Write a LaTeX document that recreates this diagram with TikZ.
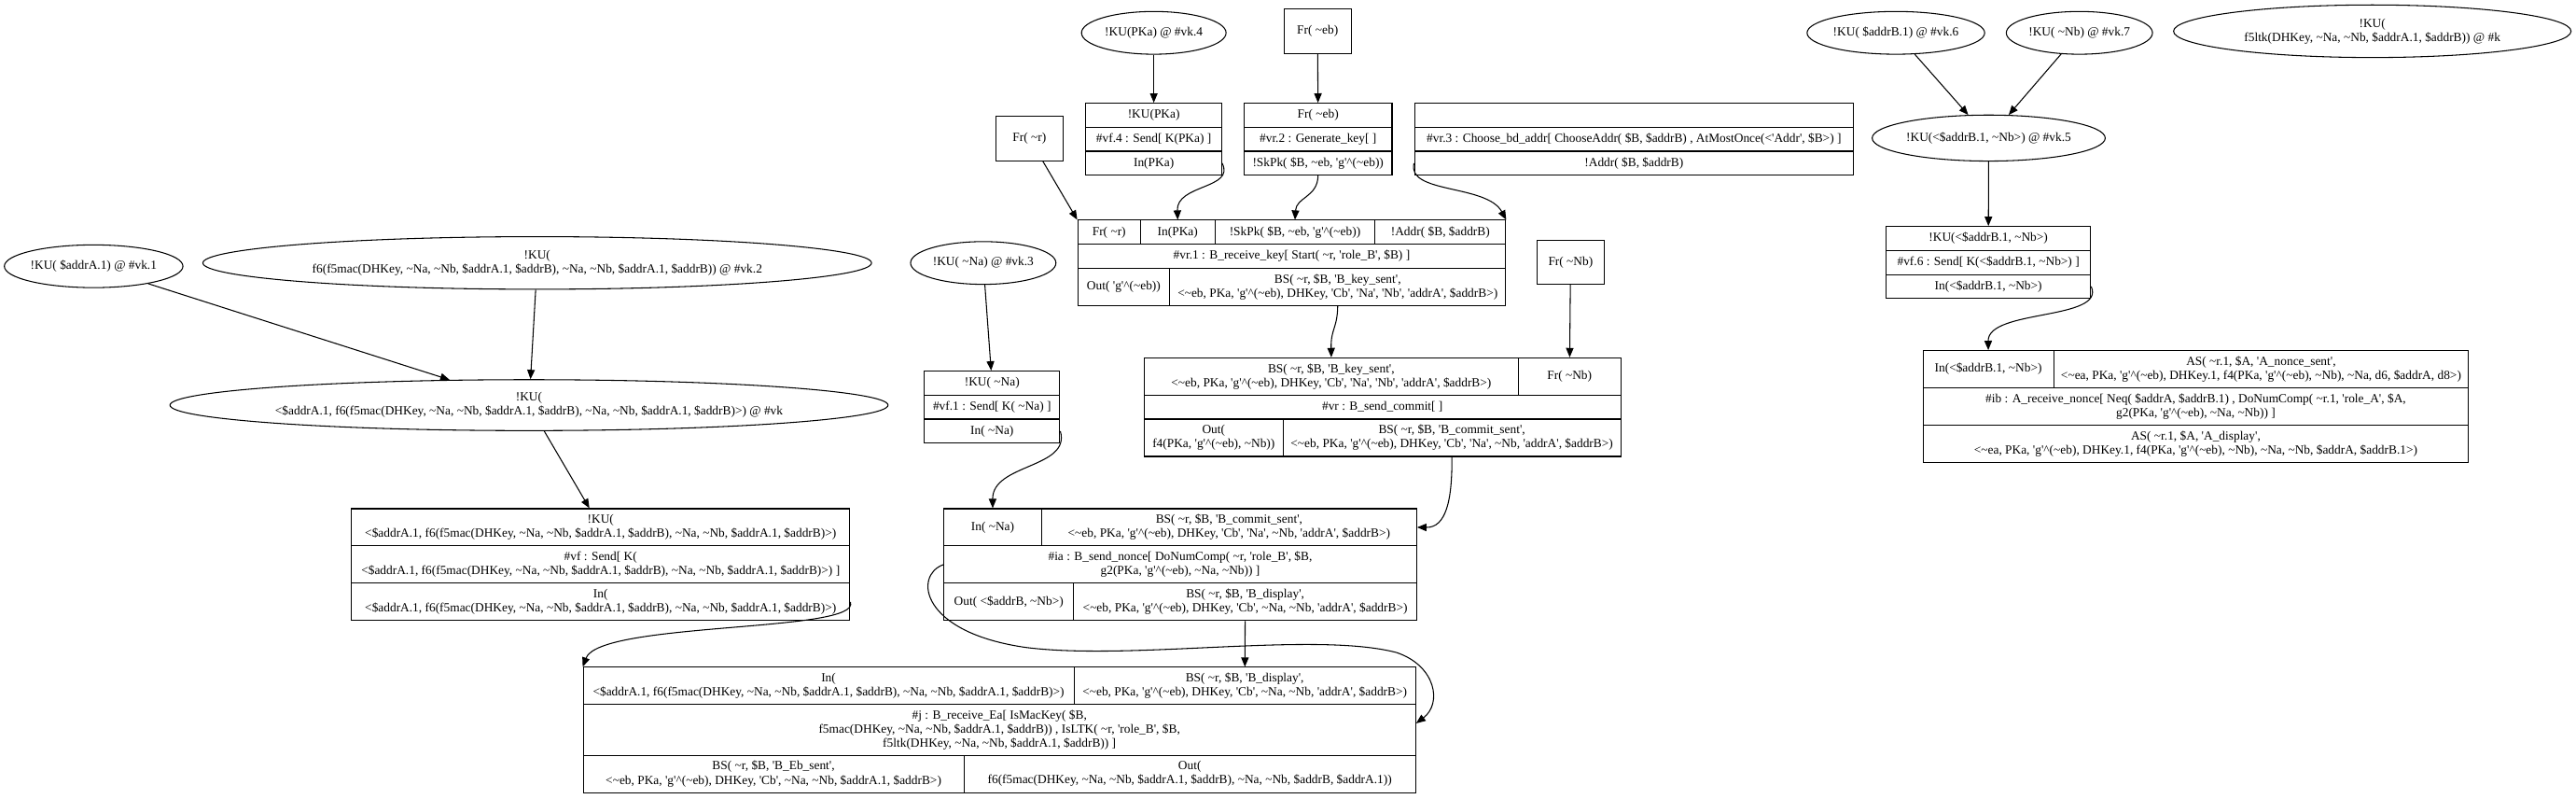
\documentclass[tikz,border=0pt]{standalone}
\usepackage{fontspec}
\newfontfamily\gvfont{Liberation Serif}
\usetikzlibrary{arrows.meta, shapes.geometric}
\newcommand{\tld}{\textasciitilde}
\newcommand{\gEb}{'g'\textasciicircum(\tld eb)}
\newcommand{\fsix}{f6(f5mac(DHKey, \tld Na, \tld Nb, \$addrA.1, \$addrB), \tld Na, \tld Nb, \$addrA.1, \$addrB)}

\begin{document}
\begin{tikzpicture}[x=1pt, y=-1pt,
  rec/.style={draw, line width=0.6pt, inner sep=1pt, align=center, font=\gvfont\fontsize{7.6}{8.6}\selectfont},
  fr/.style={rec, minimum width=41pt, minimum height=27pt},
  ku/.style={ellipse, draw, line width=0.6pt, inner sep=0pt, align=center, font=\gvfont\fontsize{7.6}{8.6}\selectfont},
  link/.style={line width=0.6pt, -{Triangle[length=5.7pt, width=4.6pt]}}]
  \useasboundingbox (0,0) rectangle (1568,486);

  % top row
  \node[ku, minimum width=88pt, minimum height=26pt] (vk4) at (702.3,20) {!KU(PKa) @ \#vk.4};
  \node[fr] (freb) at (802,19) {Fr( \tld eb)};
  \node[ku, minimum width=108pt, minimum height=26pt] (vk6) at (1154,20) {!KU( \$addrB.1) @ \#vk.6};
  \node[ku, minimum width=89pt, minimum height=26pt] (vk7) at (1265.7,20) {!KU( \tld Nb) @ \#vk.7};
  \node[ku, minimum width=242pt, minimum height=32pt] (kk) at (1444,19) {!KU(\\ f5ltk(DHKey, \tld Na, \tld Nb, \$addrA.1, \$addrB)) @ \#k};

  % vf.4
  \node[rec, minimum width=82.6pt, minimum height=14.6pt] (vf4a) at (702.3,70.1) {!KU(PKa)};
  \node[rec, minimum width=82.6pt, minimum height=14.6pt] (vf4b) at (702.3,84.7) {\#vf.4 : Send[ K(PKa) ]};
  \node[rec, minimum width=82.6pt, minimum height=14.6pt] (vf4c) at (702.3,99.3) {In(PKa)};
  % vr.2
  \node[rec, minimum width=90pt, minimum height=14.6pt] (vr2a) at (802.3,70.1) {Fr( \tld eb)};
  \node[rec, minimum width=90pt, minimum height=14.6pt] (vr2b) at (802.3,84.7) {\#vr.2 : Generate\_key[ ]};
  \node[rec, minimum width=90pt, minimum height=14.6pt] (vr2c) at (802.3,99.3) {!SkPk( \$B, \tld eb, \gEb)};
  % vr.3
  \node[rec, minimum width=267.2pt, minimum height=14.6pt] (vr3a) at (994.6,70.1) {};
  \node[rec, minimum width=267.2pt, minimum height=14.6pt] (vr3b) at (994.6,84.7) {\#vr.3 : Choose\_bd\_addr[ ChooseAddr( \$B, \$addrB) , AtMostOnce(<'Addr', \$B>) ]};
  \node[rec, minimum width=267.2pt, minimum height=14.6pt] (vr3c) at (994.6,99.3) {!Addr( \$B, \$addrB)};

  \node[fr] (frr) at (626.6,84.2) {Fr( \tld r)};
  \node[ku, minimum width=137pt, minimum height=28pt] (vk5) at (1210.5,84) {!KU(<\$addrB.1, \tld Nb>) @ \#vk.5};

  % vr.1
  \node[rec, minimum width=38.2pt, minimum height=14.6pt] (vr1a) at (675.1,141.3) {Fr( \tld r)};
  \node[rec, minimum width=45.3pt, minimum height=14.6pt] (vr1b) at (716.85,141.3) {In(PKa)};
  \node[rec, minimum width=97.5pt, minimum height=14.6pt] (vr1c) at (788.25,141.3) {!SkPk( \$B, \tld eb, \gEb)};
  \node[rec, minimum width=79.5pt, minimum height=14.6pt] (vr1d) at (876.75,141.3) {!Addr( \$B, \$addrB)};
  \node[rec, minimum width=260.5pt, minimum height=14.6pt] (vr1m) at (786.25,155.9) {\#vr.1 : B\_receive\_key[ Start( \tld r, 'role\_B', \$B) ]};
  \node[rec, minimum width=56pt, minimum height=22.7pt] (vr1e) at (684,174.55) {Out( \gEb)};
  \node[rec, minimum width=204.5pt, minimum height=22.7pt] (vr1f) at (814.25,174.55) {BS( \tld r, \$B, 'B\_key\_sent',\\ <\tld eb, PKa, \gEb, DHKey, 'Cb', 'Na', 'Nb', 'addrA', \$addrB>)};

  % vf.6
  \node[rec, minimum width=124.6pt, minimum height=14.6pt] (vf6a) at (1210.3,145.1) {!KU(<\$addrB.1, \tld Nb>)};
  \node[rec, minimum width=124.6pt, minimum height=14.6pt] (vf6b) at (1210.3,159.7) {\#vf.6 : Send[ K(<\$addrB.1, \tld Nb>) ]};
  \node[rec, minimum width=124.6pt, minimum height=14.6pt] (vf6c) at (1210.3,174.3) {In(<\$addrB.1, \tld Nb>)};

  \node[ku, minimum width=88.5pt, minimum height=26pt] (vk3) at (598.5,160) {!KU( \tld Na) @ \#vk.3};
  \node[fr] (frnb) at (956,159.5) {Fr( \tld Nb)};
  \node[ku, minimum width=108pt, minimum height=26pt] (vk1) at (57,162) {!KU( \$addrA.1) @ \#vk.1};
  \node[ku, minimum width=407pt, minimum height=32pt] (vk2) at (327,160) {!KU(\\ \fsix) @ \#vk.2};
  \node[ku, minimum width=437pt, minimum height=31pt] (vk) at (322,246.5) {!KU(\\ <\$addrA.1, \fsix>) @ \#vk};

  % vf.1
  \node[rec, minimum width=82.5pt, minimum height=14.6pt] (vf1a) at (603.85,233.1) {!KU( \tld Na)};
  \node[rec, minimum width=82.5pt, minimum height=14.6pt] (vf1b) at (603.85,247.7) {\#vf.1 : Send[ K( \tld Na) ]};
  \node[rec, minimum width=82.5pt, minimum height=14.6pt] (vf1c) at (603.85,262.3) {In( \tld Na)};

  % vr
  \node[rec, minimum width=227.7pt, minimum height=22.7pt] (vra) at (810.35,229.05) {BS( \tld r, \$B, 'B\_key\_sent',\\ <\tld eb, PKa, \gEb, DHKey, 'Cb', 'Na', 'Nb', 'addrA', \$addrB>)};
  \node[rec, minimum width=62.3pt, minimum height=22.7pt] (vrb) at (955.35,229.05) {Fr( \tld Nb)};
  \node[rec, minimum width=290pt, minimum height=14.6pt] (vrm) at (841.5,247.7) {\#vr : B\_send\_commit[ ]};
  \node[rec, minimum width=84.5pt, minimum height=22.7pt] (vre) at (738.75,266.35) {Out(\\ f4(PKa, \gEb, \tld Nb))};
  \node[rec, minimum width=205.5pt, minimum height=22.7pt] (vrf) at (883.75,266.35) {BS( \tld r, \$B, 'B\_commit\_sent',\\ <\tld eb, PKa, \gEb, DHKey, 'Cb', 'Na', \tld Nb, 'addrA', \$addrB>)};

  % ib
  \node[rec, minimum width=79.5pt, minimum height=22.7pt] (iba) at (1210.25,224.65) {In(<\$addrB.1, \tld Nb>)};
  \node[rec, minimum width=252.6pt, minimum height=22.7pt] (ibb) at (1376.3,224.65) {AS( \tld r.1, \$A, 'A\_nonce\_sent',\\ <\tld ea, PKa, \gEb, DHKey.1, f4(PKa, \gEb, \tld Nb), \tld Na, d6, \$addrA, d8>)};
  \node[rec, minimum width=332.1pt, minimum height=22.7pt] (ibm) at (1336.55,247.35) {\#ib : A\_receive\_nonce[ Neq( \$addrA, \$addrB.1) , DoNumComp( \tld r.1, 'role\_A', \$A,\\ g2(PKa, \gEb, \tld Na, \tld Nb)) ]};
  \node[rec, minimum width=332.1pt, minimum height=22.7pt] (ibc) at (1336.55,270.05) {AS( \tld r.1, \$A, 'A\_display',\\ <\tld ea, PKa, \gEb, DHKey.1, f4(PKa, \gEb, \tld Nb), \tld Na, \tld Nb, \$addrA, \$addrB.1>)};

  % vf
  \node[rec, minimum width=303.4pt, minimum height=22.7pt] (vfa) at (365.6,320.85) {!KU(\\ <\$addrA.1, \fsix>)};
  \node[rec, minimum width=303.4pt, minimum height=22.7pt] (vfb) at (365.6,343.55) {\#vf : Send[ K(\\ <\$addrA.1, \fsix>) ]};
  \node[rec, minimum width=303.4pt, minimum height=22.7pt] (vfc) at (365.6,366.25) {In(\\ <\$addrA.1, \fsix>)};

  % ia
  \node[rec, minimum width=59.5pt, minimum height=22.7pt] (iaa) at (604.25,320.85) {In( \tld Na)};
  \node[rec, minimum width=228.3pt, minimum height=22.7pt] (iab) at (748.15,320.85) {BS( \tld r, \$B, 'B\_commit\_sent',\\ <\tld eb, PKa, \gEb, DHKey, 'Cb', 'Na', \tld Nb, 'addrA', \$addrB>)};
  \node[rec, minimum width=287.8pt, minimum height=22.7pt] (iam) at (718.4,343.55) {\#ia : B\_send\_nonce[ DoNumComp( \tld r, 'role\_B', \$B,\\ g2(PKa, \gEb, \tld Na, \tld Nb)) ]};
  \node[rec, minimum width=79.1pt, minimum height=22.7pt] (iae) at (614.05,366.25) {Out( <\$addrB, \tld Nb>)};
  \node[rec, minimum width=208.7pt, minimum height=22.7pt] (iaf) at (757.95,366.25) {BS( \tld r, \$B, 'B\_display',\\ <\tld eb, PKa, \gEb, DHKey, 'Cb', \tld Na, \tld Nb, 'addrA', \$addrB>)};

  % j
  \node[rec, minimum width=298.7pt, minimum height=22.7pt] (ja) at (504.35,417.35) {In(\\ <\$addrA.1, \fsix>)};
  \node[rec, minimum width=208pt, minimum height=22.7pt] (jb) at (757.7,417.35) {BS( \tld r, \$B, 'B\_display',\\ <\tld eb, PKa, \gEb, DHKey, 'Cb', \tld Na, \tld Nb, 'addrA', \$addrB>)};
  \node[rec, minimum width=506.7pt, minimum height=30.8pt] (jm) at (608.35,444.1) {\#j : B\_receive\_Ea[ IsMacKey( \$B,\\ f5mac(DHKey, \tld Na, \tld Nb, \$addrA.1, \$addrB)) , IsLTK( \tld r, 'role\_B', \$B,\\ f5ltk(DHKey, \tld Na, \tld Nb, \$addrA.1, \$addrB)) ]};
  \node[rec, minimum width=231.7pt, minimum height=22.7pt] (je) at (470.85,470.85) {BS( \tld r, \$B, 'B\_Eb\_sent',\\ <\tld eb, PKa, \gEb, DHKey, 'Cb', \tld Na, \tld Nb, \$addrA.1, \$addrB>)};
  \node[rec, minimum width=275pt, minimum height=22.7pt] (jf) at (724.2,470.85) {Out(\\ f6(f5mac(DHKey, \tld Na, \tld Nb, \$addrA.1, \$addrB), \tld Na, \tld Nb, \$addrB, \$addrA.1))};

  % edges
  \draw[link] (vk4) -- (vf4a);
  \draw[link] (freb) -- (vr2a);
  \draw[link] (vk6) -- (vk5);
  \draw[link] (vk7) -- (vk5);
  \draw[link] (vk5) -- (vf6a);
  \draw[link] (frr) -- (vr1a.north west);
  \draw[link] (vf4c.east) .. controls (752,115) and (716,112) .. (vr1b.north);
  \draw[link] (vr2c.south) .. controls (802,120) and (789,120) .. (vr1c.north);
  \draw[link] (vr3c.west) .. controls (856,118) and (905,112) .. (vr1d.north east);
  \draw[link] (vr1f.south) .. controls (814,200) and (810,200) .. (vra.north);
  \draw[link] (frnb) -- (vrb);
  \draw[link] (vf6c.east) .. controls (1282,195) and (1210,188) .. (iba.north);
  \draw[link] (vk1) -- (vk);
  \draw[link] (vk2) -- (vk);
  \draw[link] (vk) -- (vfa);
  \draw[link] (vk3) -- (vf1a);
  \draw[link] (vf1c.east) .. controls (652,285) and (604,282) .. (iaa.north);
  \draw[link] (vrf.south) .. controls (884,305) and (880,321) .. (iab.east);
  \draw[link] (vfc.east) .. controls (525,385) and (365,378) .. (ja.north west);
  \draw[link] (iaf) -- (jb);
  \draw[link] (iam.west) .. controls (556,350) and (560,385) .. (625,394)
    .. controls (690,402) and (800,384) .. (850,397)
    .. controls (874,405) and (878,428) .. ([yshift=4pt]jm.east);
\end{tikzpicture}
\end{document}
